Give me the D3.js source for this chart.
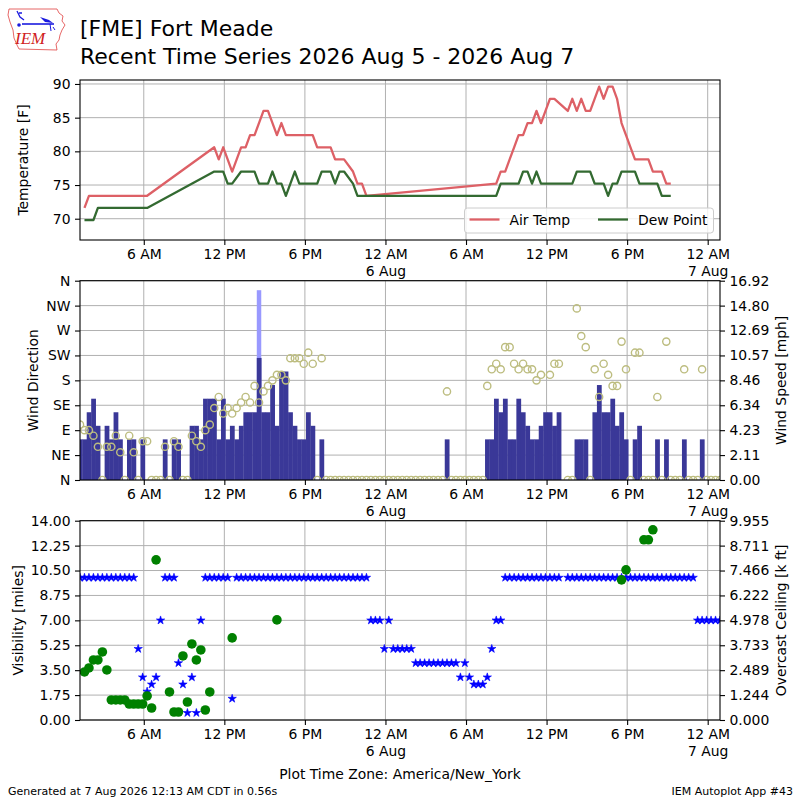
<!DOCTYPE html>
<html lang="en">
<head>
<meta charset="UTF-8">
<title>[FME] Fort Meade - Recent Time Series</title>
<style>
  body { margin: 0; background: #fff; }
  svg { display: block; font-family: "DejaVu Sans", sans-serif; }
  .tick text { font-size: 13.9px; fill: #000; font-family: "DejaVu Sans", sans-serif; }
  .tick line { stroke: #000; stroke-width: 1.1; }
  .grid { stroke: #b0b0b0; stroke-width: 1; }
  .spine { fill: none; stroke: #000; stroke-width: 1.1; }
  .label { font-size: 13.9px; fill: #000; }
</style>
</head>
<body>
<svg id="chart" width="800" height="800"></svg>
<script src="https://cdn.jsdelivr.net/npm/d3@7"></script>
<script>
// observations every 20 minutes, 5 Aug 01:15 -> 7 Aug 00:55 (America/New_York)
const obsStart = new Date(2026, 7, 5, 1, 15);

// sustained wind [mph], one value per ob (null = no ob)
const windMph = [
  3.45, 3.45, 5.75, 6.90, 4.60, 0, 4.60, 3.45, 5.75, 3.45,
  0, 3.45, 3.45, 0, 3.45, 0, 0, 0, 0, 3.45,
  0, 3.45, 3.45, 0, 0, 4.60, 4.60, 3.45, 6.90, 6.90,
  6.90, 3.45, 6.90, 3.45, 4.60, 3.45, 4.60, 5.75, 5.75, 5.75,
  10.36, 5.75, 5.75, 8.06, 4.60, 9.21, 9.21, 5.75, 4.60, 3.45,
  3.45, 5.75, 4.60, 0, 3.45, 0, 0, 0, 0, 0,
  0, 0, 0, 0, 0, 0, 0, 0, 0, 0,
  0, 0, 0, 0, 0, 0, 0, 0, 0, 0,
  0, 0, 3.45, 0, 0, 0, 0, 0, 0, 0,
  0, 3.45, 3.45, 6.90, 5.75, 6.90, 3.45, 3.45, 6.90, 5.75,
  4.60, 3.45, 3.45, 4.60, 5.75, 5.75, 4.60, 5.75, null, 0,
  0, 3.45, 3.45, 3.45, 0, 5.75, 8.06, 5.75, 5.75, 6.90,
  4.60, 5.75, 3.45, 0, 3.45, 4.60, 0, 0, 0, 3.45,
  0, 3.45, 0, 0, 0, 3.45, 0, 0, 0, 3.45,
  0, 0, 0, 0
];

// wind direction [deg]
const windDir = [
  100, 90, 90, 80, 60, 0, 60, 60, 80, 50,
  0, 80, 50, 0, 70, 70, 0, 0, 0, 60,
  0, 70, 60, 0, 0, 80, 70, 60, 90, 100,
  130, 150, 120, 130, 120, 130, 140, 150, 140, 170,
  140, 160, 170, 180, 190, 190, 180, 220, 220, 220,
  210, 230, 210, 0, 220, 0, 0, 0, 0, 0,
  0, 0, 0, 0, 0, 0, 0, 0, 0, 0,
  0, 0, 0, 0, 0, 0, 0, 0, 0, 0,
  0, 0, 160, 0, 0, 0, 0, 0, 0, 0,
  0, 170, 200, 210, 200, 240, 240, 210, 200, 210,
  200, 200, 180, 190, null, 190, 210, 210, null, 0,
  0, 310, 260, 240, 0, 200, 150, 210, 190, 170,
  170, 250, 200, 0, 230, 230, 0, 0, 0, 150,
  0, 250, 0, 0, 0, 200, 0, 0, 0, 200,
  0, 0, 0, 0
];

// gusts [mph]
const gustIdx = [40];
const gustMph = [16.11];

// visibility [miles]
const visMiles = [
  10, 10, 10, 10, 10, 10, 10, 10, 10, 10,
  10, 10, 10, 5, 3, 2, 2.5, 3, 7, 10,
  10, 10, 4, 2.5, 0.5, 3, 0.5, 7, 10, 10,
  10, 10, 10, 10, 1.5, 10, 10, 10, 10, 10,
  10, 10, 10, 10, 10, 10, 10, 10, 10, 10,
  10, 10, 10, 10, 10, 10, 10, 10, 10, 10,
  10, 10, 10, 10, 10, 7, 7, 7, 5, 7,
  5, 5, 5, 5, 5, 4, 4, 4, 4, 4,
  4, 4, 4, 4, 4, 3, 4, 3, 2.5, 2.5,
  2.5, 3, 5, 7, 7, 10, 10, 10, 10, 10,
  10, 10, 10, 10, 10, 10, 10, 10, null, 10,
  10, 10, 10, 10, 10, 10, 10, 10, 10, 10,
  10, 10, 10, 10, 10, 10, 10, 10, 10, 10,
  10, 10, 10, 10, 10, 10, 10, 10, 7, 7,
  7, 7, 7, 7
];

// overcast ceiling [k ft]
const ceilIdx = [1, 2, 3, 4, 5, 6, 7, 8, 9, 10, 11, 12, 13, 14, 15, 16, 17,
  20, 21, 22, 23, 24, 25, 26, 27, 28, 29, 34, 44, 121, 122, 126, 127, 128];
const ceilKft = [2.4, 2.6, 3.0, 3.0, 3.4, 2.5, 1.0, 1.0, 1.0, 1.0, 0.8, 0.8, 0.8, 0.8, 1.2, 0.6, 8.0,
  1.4, 0.4, 0.4, 3.2, 0.9, 3.8, 3.0, 3.5, 0.5, 1.4, 4.1, 5.0, 7.0, 7.5, 9.0, 9.0, 9.5];

// air temperature / dew point [F], by ob index
const airIdx = [1, 2, 15, 30, 31, 32, 34, 36, 37, 38, 39, 41, 42, 44, 45, 46, 52, 53, 56, 57,
  59, 61, 62, 63, 64, 93, 94, 95, 96, 97, 98, 99, 100, 101, 102, 103, 105, 106, 109, 110,
  111, 112, 113, 114, 116, 117, 118, 119, 120, 121, 122, 123, 124, 127, 128, 130, 131, 132];
const airF = [71.6, 73.4, 73.4, 80.6, 78.8, 80.6, 77.0, 80.6, 80.6, 82.4, 82.4, 86.0, 86.0, 82.4, 84.2, 82.4, 82.4, 80.6, 80.6, 78.8,
  78.8, 77.0, 75.2, 75.2, 73.4, 75.2, 77.0, 77.0, 78.8, 80.6, 82.4, 82.4, 84.2, 84.2, 86.0, 84.2, 87.8, 87.8, 86.0, 87.8,
  86.0, 87.8, 86.0, 86.0, 89.6, 87.8, 89.6, 89.6, 87.8, 84.2, 82.4, 80.6, 78.8, 78.8, 77.0, 77.0, 75.2, 75.2];
const dewIdx = [1, 3, 4, 15, 30, 32, 33, 34, 36, 39, 40, 42, 43, 44, 45, 46, 48, 49, 53, 54,
  56, 57, 58, 59, 61, 62, 93, 94, 98, 99, 100, 101, 102, 103, 110, 111, 114, 115, 117, 118,
  119, 120, 121, 124, 125, 129, 130, 132];
const dewF = [69.8, 69.8, 71.6, 71.6, 77.0, 77.0, 75.2, 75.2, 77.0, 77.0, 75.2, 75.2, 77.0, 75.2, 75.2, 73.4, 77.0, 75.2, 75.2, 77.0,
  77.0, 75.2, 77.0, 77.0, 75.2, 73.4, 73.4, 75.2, 75.2, 77.0, 77.0, 75.2, 77.0, 75.2, 75.2, 77.0, 77.0, 75.2, 75.2, 73.4,
  75.2, 75.2, 77.0, 77.0, 75.2, 75.2, 73.4, 73.4];

const tempTicks = [70, 75, 80, 85, 90];
const dirTicks = [0, 45, 90, 135, 180, 225, 270, 315, 360];
const dirLabels = ["N", "NE", "E", "SE", "S", "SW", "W", "NW", "N"];
const visTicks = [0, 1.75, 3.5, 5.25, 7, 8.75, 10.5, 12.25, 14];
const speedMax = 16.9165;
const ceilMax = 9.9552;

// ---- layout ----
const svg = d3.select("#chart");
const L = 80, R = 720;
const P = [
  { top: 80, bottom: 240 },
  { top: 280.7, bottom: 480 },
  { top: 520.7, bottom: 720 }
];
const airColor = "#dd6066", dewColor = "#336a31";
const barColor = "#3a3898", gustColor = "#9999ff", dirColor = "#bdbd80";

const obsTime = windMph.map((_, i) => d3.timeMinute.offset(obsStart, 20 * i));
const x = d3.scaleTime().domain(d3.extent(obsTime)).range([L, R]);
const timeTicks = d3.timeHour.every(6).range(x.domain()[0], x.domain()[1]);
const fmtHour = d3.timeFormat("%-I %p"), fmtDay = d3.timeFormat("%-d %b");

const defs = svg.append("defs");
P.forEach((p, i) => defs.append("clipPath").attr("id", "clip" + i)
  .append("rect").attr("x", L).attr("y", p.top).attr("width", R - L).attr("height", p.bottom - p.top));

function grid(p, y, ticks) {
  const g = svg.append("g");
  g.selectAll("line.gx").data(timeTicks).join("line").attr("class", "grid gx")
    .attr("x1", d => x(d)).attr("x2", d => x(d)).attr("y1", p.top).attr("y2", p.bottom);
  g.selectAll("line.gy").data(ticks).join("line").attr("class", "grid gy")
    .attr("x1", L).attr("x2", R).attr("y1", d => y(d)).attr("y2", d => y(d));
}

function frame(p) {
  svg.append("rect").attr("class", "spine")
    .attr("x", L).attr("y", p.top).attr("width", R - L).attr("height", p.bottom - p.top);
  const a = svg.append("g").attr("transform", `translate(0,${p.bottom})`)
    .call(d3.axisBottom(x).tickValues(timeTicks).tickSize(5).tickPadding(4.5));
  a.select(".domain").remove();
  a.selectAll(".tick text").attr("dy", null).text(null).each(function (d) {
    const lines = d.getHours() === 0 ? ["12 AM", fmtDay(d)] : [fmtHour(d)];
    lines.forEach((s, i) => d3.select(this).append("tspan")
      .attr("x", 0).attr("dy", i ? "1.2em" : "0.71em").text(s));
  });
}

function leftAxis(y, ticks, fmt) {
  const a = svg.append("g").attr("transform", `translate(${L},0)`)
    .call(d3.axisLeft(y).tickValues(ticks).tickFormat(fmt).tickSize(5).tickPadding(4.5));
  a.select(".domain").remove();
}

function rightAxis(y, ticks, fmt) {
  const a = svg.append("g").attr("transform", `translate(${R},0)`)
    .call(d3.axisRight(y).tickValues(ticks).tickFormat(fmt).tickSize(5).tickPadding(4.5));
  a.select(".domain").remove();
}

function yLabel(text, cx, cy, color) {
  svg.append("text").attr("class", "label")
    .attr("transform", `translate(${cx},${cy}) rotate(-90)`)
    .attr("text-anchor", "middle").attr("fill", color || "#000").text(text);
}

// ---- panel 1: temperature ----
const p1 = P[0];
const yTemp = d3.scaleLinear().domain([66.84, 90.59]).range([p1.bottom, p1.top]);
grid(p1, yTemp, tempTicks);
const tLine = d3.line().x(d => x(obsTime[d[0]])).y(d => yTemp(d[1]));
svg.append("path").datum(d3.zip(airIdx, airF)).attr("d", tLine)
  .attr("fill", "none").attr("stroke", airColor).attr("stroke-width", 2.3)
  .attr("stroke-linejoin", "round").attr("clip-path", "url(#clip0)");
svg.append("path").datum(d3.zip(dewIdx, dewF)).attr("d", tLine)
  .attr("fill", "none").attr("stroke", dewColor).attr("stroke-width", 2.3)
  .attr("stroke-linejoin", "round").attr("clip-path", "url(#clip0)");
frame(p1);
leftAxis(yTemp, tempTicks, d3.format("d"));
yLabel("Temperature [F]", 28, (p1.top + p1.bottom) / 2);

const leg = svg.append("g").attr("transform", "translate(464.5,208)");
leg.append("rect").attr("width", 249).attr("height", 25).attr("rx", 3)
  .attr("fill", "#fff").attr("fill-opacity", 0.8).attr("stroke", "#cccccc");
[["Air Temp", airColor, 5], ["Dew Point", dewColor, 133.5]].forEach(([t, c, lx]) => {
  leg.append("line").attr("x1", lx).attr("x2", lx + 30).attr("y1", 11.5).attr("y2", 11.5)
    .attr("stroke", c).attr("stroke-width", 2.3);
  leg.append("text").attr("class", "label").attr("x", lx + 40).attr("y", 16.5).text(t);
});

// ---- panel 2: wind ----
const p2 = P[1];
const yDir = d3.scaleLinear().domain([0, 360]).range([p2.bottom, p2.top]);
const ySpd = d3.scaleLinear().domain([0, speedMax]).range([p2.bottom, p2.top]);
const barW = x(obsTime[1]) - x(obsTime[0]);
grid(p2, yDir, dirTicks);
const wg = svg.append("g").attr("clip-path", "url(#clip1)");
wg.selectAll("rect.gust").data(d3.zip(gustIdx, gustMph)).join("rect").attr("class", "gust")
  .attr("x", d => x(obsTime[d[0]]) - barW / 2).attr("width", barW)
  .attr("y", d => ySpd(d[1])).attr("height", d => ySpd(0) - ySpd(d[1]))
  .attr("fill", gustColor);
wg.selectAll("rect.spd").data(windMph.map((v, i) => [i, v]).filter(d => d[1] > 0)).join("rect")
  .attr("class", "spd")
  .attr("x", d => x(obsTime[d[0]]) - barW / 2).attr("width", barW + 0.3)
  .attr("y", d => ySpd(d[1])).attr("height", d => ySpd(0) - ySpd(d[1]))
  .attr("fill", barColor);
wg.selectAll("circle").data(windDir.map((v, i) => [i, v]).filter(d => d[1] != null)).join("circle")
  .attr("cx", d => x(obsTime[d[0]])).attr("cy", d => yDir(d[1])).attr("r", 3.6)
  .attr("fill", "none").attr("stroke", dirColor).attr("stroke-width", 1.4);
frame(p2);
leftAxis(yDir, dirTicks, (d, i) => dirLabels[i]);
rightAxis(ySpd, d3.range(9).map(i => speedMax * i / 8), d3.format(".2f"));
yLabel("Wind Direction", 38, (p2.top + p2.bottom) / 2);
yLabel("Wind Speed [mph]", 786, (p2.top + p2.bottom) / 2);

// ---- panel 3: visibility / ceiling ----
const p3 = P[2];
const yVis = d3.scaleLinear().domain([0, 14]).range([p3.bottom, p3.top]);
const yCeil = d3.scaleLinear().domain([0, ceilMax]).range([p3.bottom, p3.top]);
grid(p3, yVis, visTicks);
const vg = svg.append("g").attr("clip-path", "url(#clip2)");
const star = d3.symbol().type(d3.symbolStar).size(22);
vg.selectAll("path.vis").data(visMiles.map((v, i) => [i, v]).filter(d => d[1] != null)).join("path")
  .attr("class", "vis").attr("d", star)
  .attr("transform", d => `translate(${x(obsTime[d[0]])},${yVis(d[1])})`)
  .attr("fill", "#0000ff").attr("stroke", "#0000ff").attr("stroke-width", 0.6);
vg.selectAll("circle").data(d3.zip(ceilIdx, ceilKft)).join("circle")
  .attr("cx", d => x(obsTime[d[0]])).attr("cy", d => yCeil(d[1])).attr("r", 4.8)
  .attr("fill", "#008000");
frame(p3);
leftAxis(yVis, visTicks, d3.format(".2f"));
rightAxis(yCeil, d3.range(9).map(i => ceilMax * i / 8), d3.format(".3f"));
yLabel("Visibility [miles]", 23, (p3.top + p3.bottom) / 2);
yLabel("Overcast Ceiling [k ft]", 786, (p3.top + p3.bottom) / 2, "#008000");

svg.append("text").attr("class", "label").attr("x", 400).attr("y", 779)
  .attr("text-anchor", "middle").text("Plot Time Zone: America/New_York");

// ---- titles & footer ----
svg.append("text").attr("x", 80).attr("y", 36).attr("font-size", 22).text("[FME] Fort Meade");
svg.append("text").attr("x", 80).attr("y", 63.5).attr("font-size", 22)
  .text("Recent Time Series 2026 Aug 5 - 2026 Aug 7");
svg.append("text").attr("x", 8).attr("y", 795).attr("font-size", 11)
  .text("Generated at 7 Aug 2026 12:13 AM CDT in 0.56s");
svg.append("text").attr("x", 793).attr("y", 795).attr("font-size", 11).attr("text-anchor", "end")
  .text("IEM Autoplot App #43");

// ---- IEM logo ----
const logo = svg.append("g").attr("transform", "translate(7,8)");
logo.append("path")
  .attr("d", "M2,1 L50,1 L52,5 L56,8 L55,13 L58,17 L55,22 L53,27 L52,32 L49,36 L50,42 L12,41 L10,37 L7,30 L6,22 L3,14 L1,7 Z")
  .attr("fill", "none").attr("stroke", "#e04040").attr("stroke-width", 0.8);
logo.append("line").attr("x1", 15).attr("x2", 47).attr("y1", 16).attr("y2", 16)
  .attr("stroke", "#1a1adf").attr("stroke-width", 1.6);
logo.append("path").attr("d", "M10,3 L13,9 L17,12 M12,5 L15,5").attr("fill", "none")
  .attr("stroke", "#1a1adf").attr("stroke-width", 1.3);
logo.append("path").attr("d", "M33,9 L42,12 L46,15 L38,14 Z").attr("fill", "#1a1adf");
logo.append("circle").attr("cx", 12).attr("cy", 17).attr("r", 1.8).attr("fill", "#1a1adf");
logo.append("path").attr("d", "M43,16 L44,23 M46,19 L48,22").attr("fill", "none")
  .attr("stroke", "#1a1adf").attr("stroke-width", 1);
logo.append("text").attr("x", 8).attr("y", 36).attr("font-family", "Liberation Serif, serif")
  .attr("font-style", "italic").attr("font-size", 17).attr("fill", "#d02020").text("IEM");
</script>
</body>
</html>
